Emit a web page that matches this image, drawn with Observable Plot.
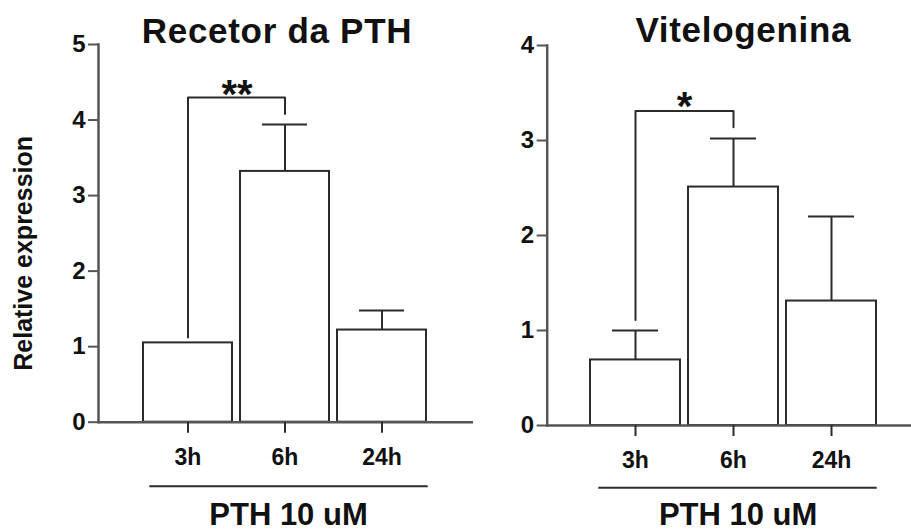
<!DOCTYPE html>
<html><head><meta charset="utf-8">
<script src="https://cdn.jsdelivr.net/npm/d3@7"></script>
<script src="https://cdn.jsdelivr.net/npm/@observablehq/plot@0.6"></script>
<style>
body{margin:0;background:#fff;}
#wrap{position:relative;width:911px;height:531px;overflow:hidden;background:#fff;}
#left,#right{position:absolute;top:0;}
#left{left:0}
#right{left:473px}
</style></head><body><div id="wrap"><div id="left"></div><div id="right"></div></div>
<script>
// Categories
const times = ["3h", "6h", "24h"];
// Recetor da PTH: means and SEM
const pthMean = [1.05, 3.32, 1.22];
const pthSem = [0, 0.62, 0.26];
const pthBracketX = ["3h", "3h", "6h", "6h"];
const pthBracketY = [1.12, 4.30, 4.30, 4.08];
const pthStar = "**";
// Vitelogenina: means and SEM
const vitMean = [0.69, 2.51, 1.31];
const vitSem = [0.31, 0.51, 0.89];
const vitBracketX = ["3h", "3h", "6h", "6h"];
const vitBracketY = [1.11, 3.31, 3.31, 3.14];
const vitStar = "*";
// Tick labels
const pthTicks = [0, 1, 2, 3, 4, 5];
const vitTicks = [0, 1, 2, 3, 4];
const xLabel = "PTH 10 uM";
const yLabel = "Relative expression";

const ink = "#2b2b2b", axisInk = "#555";
const font = "'Liberation Sans', Arial, Helvetica, sans-serif";

function panel(o) {
  const data = times.map((t, i) => ({t, mean: o.means[i], sem: o.sems[i], top: o.means[i] + o.sems[i]}));
  const withErr = data.filter(d => d.sem > 0);
  const bracket = o.bx.map((x, i) => ({x, y: o.by[i]}));
  const marks = [
    Plot.barY(data, {x: "t", y: "mean", fill: "white", stroke: ink, strokeWidth: 2}),
    Plot.ruleX(withErr, {x: "t", y1: "mean", y2: "top", stroke: ink, strokeWidth: 2}),
    Plot.tickY(withErr, {x: "t", y: "top", stroke: ink, strokeWidth: 2, insetLeft: 22, insetRight: 22}),
    Plot.line(bracket, {x: "x", y: "y", stroke: ink, strokeWidth: 2, curve: "linear"}),
    Plot.text([{x: o.bx[0], y: o.by[1], s: o.star}], {x: "x", y: "y", text: "s", dx: o.starDx, dy: o.starDy, lineAnchor: "bottom", fontSize: 40, fontWeight: "bold", fill: "#111"}),
    Plot.ruleY([0], {stroke: axisInk, strokeWidth: 2.5}),
    Plot.frame({anchor: "left", stroke: axisInk, strokeWidth: 2.5}),
    Plot.axisY({ticks: o.ticks, tickFormat: d3.format("d"), tickSize: 10, tickPadding: 3, fontSize: 24, fontWeight: "bold", stroke: axisInk, strokeWidth: 2, label: null}),
    Plot.axisX({tickSize: 11, tickPadding: 15, fontSize: 23, fontWeight: "bold", stroke: ink, strokeWidth: 2, label: null}),
    Plot.text([o.title], {frameAnchor: "top", dx: o.titleDx, dy: o.titleDy, lineAnchor: "bottom", fontSize: 35, fontWeight: "bold", fill: "#111"}),
    Plot.ruleY([0], {stroke: ink, strokeWidth: 2, insetLeft: o.lineL, insetRight: o.lineR, dy: o.lineDy}),
    Plot.text([xLabel], {frameAnchor: "bottom", dx: o.capDx, dy: o.capDy, lineAnchor: "bottom", fontSize: 31, fontWeight: "bold", fill: "#111"})
  ];
  if (o.ylabel) marks.push(Plot.text([yLabel], {frameAnchor: "left", textAnchor: "middle", rotate: -90, dx: -75, dy: 20, fontSize: 25, fontWeight: "bold", fill: "#111"}));
  const svg = Plot.plot({
    width: o.width, height: 531,
    marginLeft: o.marginLeft, marginRight: 0, marginTop: o.marginTop, marginBottom: o.marginBottom,
    style: {fontFamily: font, color: "#111", background: "white", overflow: "visible"},
    x: {type: "band", domain: times, range: o.xRange, padding: 0.08},
    y: {domain: [0, o.ticks[o.ticks.length - 1]]},
    marks
  });
  d3.select(svg).selectAll("text").filter(function() { return this.textContent === o.title; })
    .attr("letter-spacing", 0.7);
  return svg;
}

document.getElementById("left").append(panel({
  width: 473, marginLeft: 98, marginTop: 44, marginBottom: 109.3,
  xRange: [134.1, 435.9], means: pthMean, sems: pthSem, bx: pthBracketX, by: pthBracketY,
  star: pthStar, starDx: 49, starDy: 11, ticks: pthTicks, title: "Recetor da PTH",
  titleDx: -9, titleDy: -2, lineL: 51.3, lineR: 45.3, lineDy: 64, capDx: 2.5, capDy: 102.5, ylabel: true
}));
document.getElementById("right").append(panel({
  width: 438, marginLeft: 73.7, marginTop: 45, marginBottom: 106,
  xRange: [108, 412], means: vitMean, sems: vitSem, bx: vitBracketX, by: vitBracketY,
  star: vitStar, starDx: 49, starDy: 9, ticks: vitTicks, title: "Vitelogenina",
  titleDx: 14, titleDy: -4, lineL: 51.6, lineR: 34.3, lineDy: 62.3, capDx: 8.8, capDy: 99.5, ylabel: false
}));
</script></body></html>
